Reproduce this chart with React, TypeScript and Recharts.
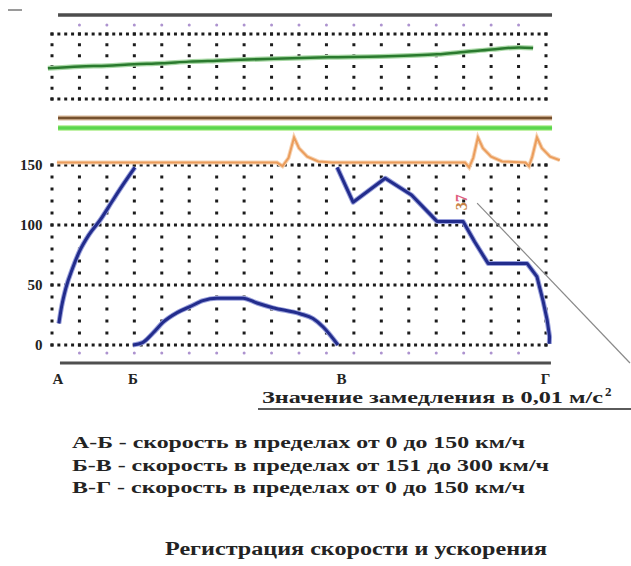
import React from "react";
import {
  ComposedChart,
  LineChart,
  Line,
  XAxis,
  YAxis,
  ReferenceLine,
  ReferenceDot,
  Customized,
} from "recharts";

// x values are grid columns (0..18), y values are km/h on the main panel
const gridColumns = [0, 1, 2, 3, 4, 5, 6, 7, 8, 9, 10, 11, 12, 13, 14, 15, 16, 17, 18];
const tickColumns = [1, 2, 3, 4, 5, 6, 7, 8, 9, 10, 11, 12, 13, 14, 15, 16, 17];
const speedTicks = [0, 50, 100, 150];
const markerPositions = [0.22, 2.95, 10.55, 17.98];
const markerLabels = ["А", "Б", "В", "Г"];
const topRows = [0, 6];

const speedAB = [
  { t: 0.25, v: 18 },
  { t: 0.35, v: 32 },
  { t: 0.5, v: 47 },
  { t: 0.75, v: 64 },
  { t: 1.0, v: 78 },
  { t: 1.35, v: 92 },
  { t: 1.75, v: 104 },
  { t: 2.2, v: 120 },
  { t: 2.6, v: 134 },
  { t: 3.02, v: 148 },
];

const speedBV = [
  { t: 2.95, v: 0 },
  { t: 3.3, v: 2 },
  { t: 3.68, v: 10 },
  { t: 4.05, v: 19 },
  { t: 4.56, v: 27 },
  { t: 5.03, v: 32 },
  { t: 5.5, v: 37 },
  { t: 6.01, v: 39 },
  { t: 6.96, v: 39 },
  { t: 7.47, v: 35 },
  { t: 8.05, v: 31 },
  { t: 9.04, v: 26 },
  { t: 9.51, v: 22 },
  { t: 9.88, v: 15 },
  { t: 10.42, v: 0 },
];

const speedVG = [
  { t: 10.39, v: 148 },
  { t: 10.97, v: 119 },
  { t: 12.14, v: 139 },
  { t: 13.1, v: 125 },
  { t: 14.03, v: 103 },
  { t: 14.98, v: 103 },
  { t: 15.4, v: 86 },
  { t: 15.89, v: 68 },
  { t: 17.31, v: 68 },
  { t: 17.67, v: 57 },
  { t: 17.89, v: 37 },
  { t: 18.04, v: 21 },
  { t: 18.13, v: 7 },
  { t: 18.12, v: 1 },
];

const acceleration = [
  { t: 0.18, a: 152 },
  { t: 8.2, a: 152 },
  { t: 8.4, a: 149 },
  { t: 8.62, a: 156 },
  { t: 8.82, a: 173 },
  { t: 9.0, a: 164 },
  { t: 9.3, a: 157 },
  { t: 9.7, a: 153 },
  { t: 10.2, a: 152 },
  { t: 15.05, a: 152 },
  { t: 15.2, a: 148 },
  { t: 15.35, a: 156 },
  { t: 15.52, a: 173 },
  { t: 15.7, a: 164 },
  { t: 16.0, a: 157 },
  { t: 16.4, a: 153 },
  { t: 17.25, a: 152 },
  { t: 17.38, a: 149 },
  { t: 17.5, a: 157 },
  { t: 17.67, a: 173 },
  { t: 17.85, a: 164 },
  { t: 18.15, a: 157 },
  { t: 18.5, a: 154 },
];

const topTrack = [
  { t: -0.15, g: 2.83 },
  { t: 1.02, g: 3.0 },
  { t: 2.0, g: 3.08 },
  { t: 2.99, g: 3.21 },
  { t: 4.01, g: 3.3 },
  { t: 4.99, g: 3.45 },
  { t: 6.01, g: 3.54 },
  { t: 8.09, g: 3.72 },
  { t: 10.06, g: 3.85 },
  { t: 11.95, g: 3.92 },
  { t: 14.03, g: 4.12 },
  { t: 15.01, g: 4.34 },
  { t: 16.03, g: 4.58 },
  { t: 17.02, g: 4.76 },
  { t: 17.53, g: 4.71 },
];

const decelCaption = "Значение замедления в 0,01 м/с";
const decelValue = "37";
const legendLines = [
  "А-Б - скорость в пределах от 0 до 150 км/ч",
  "Б-В - скорость в пределах от 151 до 300 км/ч",
  "В-Г - скорость в пределах от 0 до 150 км/ч",
];
const chartTitle = "Регистрация скорости и ускорения";

const SERIF = "Liberation Serif, Times New Roman, serif";
const INK = "#232323";
const DOT = "#1c1c1c";
const LILAC = "#ad93cf";
const BLUE = "#222c8c";

const W = 631;
const MARGIN_X = { left: 24.56, right: 57.56 };

function Annotations() {
  return (
    <g fontFamily={SERIF} fontWeight="bold" fill={INK}>
      <line x1={8} x2={22} y1={10} y2={10} stroke="#9a9a9a" strokeWidth={2} />
      <text x={262} y={403} fontSize={17} textLength={341} lengthAdjust="spacingAndGlyphs">
        {decelCaption}
      </text>
      <text x={605} y={396} fontSize={13}>
        2
      </text>
      <line x1={258} x2={631} y1={409} y2={409} stroke={INK} strokeWidth={1.5} />
      {legendLines.map((s, i) => (
        <text
          key={s}
          x={72}
          y={448 + i * 22.5}
          fontSize={17}
          textLength={i === 1 ? 477 : 453}
          lengthAdjust="spacingAndGlyphs"
        >
          {s}
        </text>
      ))}
      <text x={165} y={555} fontSize={18} textLength={382} lengthAdjust="spacingAndGlyphs">
        {chartTitle}
      </text>
    </g>
  );
}

const DecelLabel = (p: any) => (
  <text
    x={p.cx}
    y={p.cy}
    transform={`rotate(-90 ${p.cx} ${p.cy})`}
    textAnchor="middle"
    dominantBaseline="central"
    fontFamily={SERIF}
    fontWeight="bold"
    fontSize={16}
  >
    <tspan fill="#c98448">{decelValue[0]}</tspan>
    <tspan fill="#e0607e">{decelValue[1]}</tspan>
  </text>
);

function TopPanel() {
  return (
    <LineChart
      width={W}
      height={140}
      margin={{ top: 34, bottom: 41, ...MARGIN_X }}
      style={{ position: "absolute", left: 0, top: 0 }}
    >
      <XAxis type="number" dataKey="t" domain={[-1, 19]} hide />
      <YAxis type="number" domain={[0, 6]} hide />
      {gridColumns.map((c) => (
        <ReferenceLine
          key={"tc" + c}
          segment={[{ x: c, y: 6.1385 }, { x: c, y: -0.1385 }]}
          ifOverflow="visible"
          stroke={DOT}
          strokeWidth={3}
          strokeDasharray="3 7.83"
        />
      ))}
      {topRows.map((r) => (
        <ReferenceLine
          key={"tr" + r}
          segment={[{ x: -0.055, y: r }, { x: 18.055, y: r }]}
          ifOverflow="visible"
          stroke={DOT}
          strokeWidth={3}
          strokeDasharray="3 3.86"
        />
      ))}
      {tickColumns.map((c) => (
        <ReferenceDot key={"tp" + c} x={c} y={6.83} r={1.5} fill={LILAC} stroke="none" ifOverflow="visible" />
      ))}
      <ReferenceLine segment={[{ x: 0.22, y: 7.76 }, { x: 18.22, y: 7.76 }]} ifOverflow="visible" stroke="#4c4c4c" strokeWidth={3.5} />
      <ReferenceLine segment={[{ x: 0.22, y: -1.75 }, { x: 18.22, y: -1.75 }]} ifOverflow="visible" stroke="#d8b899" strokeWidth={5} />
      <ReferenceLine segment={[{ x: 0.22, y: -1.75 }, { x: 18.22, y: -1.75 }]} ifOverflow="visible" stroke="#75512f" strokeWidth={2.5} />
      <ReferenceLine segment={[{ x: 0.22, y: -2.68 }, { x: 18.22, y: -2.68 }]} ifOverflow="visible" stroke="#c2f2a8" strokeWidth={6} />
      <ReferenceLine segment={[{ x: 0.22, y: -2.68 }, { x: 18.22, y: -2.68 }]} ifOverflow="visible" stroke="#5cd64c" strokeWidth={3.5} />
      <Line data={topTrack} dataKey="g" type="monotone" stroke="#a9d8a6" strokeWidth={5} dot={false} isAnimationActive={false} />
      <Line data={topTrack} dataKey="g" type="monotone" stroke="#2a7a2e" strokeWidth={2.5} dot={false} isAnimationActive={false} />
    </LineChart>
  );
}

function SpeedPanel() {
  return (
    <ComposedChart
      width={W}
      height={566}
      margin={{ top: 129, bottom: 191, ...MARGIN_X }}
      style={{ position: "absolute", left: 0, top: 0 }}
    >
      <XAxis
        type="number"
        dataKey="t"
        domain={[-1, 19]}
        ticks={markerPositions}
        interval={0}
        tickFormatter={(v: number) => markerLabels[markerPositions.indexOf(v)]}
        height={30}
        axisLine={false}
        tickLine={false}
        tickSize={0}
        tickMargin={28}
        tick={{ fill: INK, fontSize: 15, fontWeight: "bold", fontFamily: SERIF }}
      />
      <YAxis type="number" domain={[0, 180]} hide />
      {gridColumns.map((c) => (
        <ReferenceLine
          key={"c" + c}
          segment={[{ x: c, y: 151.25 }, { x: c, y: -1.25 }]}
          ifOverflow="visible"
          stroke={DOT}
          strokeWidth={3}
          strokeDasharray="3 9"
        />
      ))}
      {speedTicks.map((s) => (
        <ReferenceLine
          key={"r" + s}
          segment={[{ x: -0.055, y: s }, { x: 18.055, y: s }]}
          ifOverflow="visible"
          stroke={DOT}
          strokeWidth={3}
          strokeDasharray="3 3.86"
          label={{
            value: String(s),
            position: "left",
            offset: 8,
            fill: INK,
            fontSize: 15,
            fontWeight: "bold",
            fontFamily: SERIF,
          }}
        />
      ))}
      {tickColumns.map((c) => (
        <ReferenceDot key={"bp" + c} x={c} y={-6.67} r={1.5} fill={LILAC} stroke="none" ifOverflow="visible" />
      ))}
      <ReferenceLine segment={[{ x: 0.29, y: -15 }, { x: 18.18, y: -15 }]} ifOverflow="visible" stroke="#4f4f4f" strokeWidth={3} />
      <ReferenceLine segment={[{ x: 15.49, y: 118.3 }, { x: 21.06, y: -15 }]} ifOverflow="visible" stroke="#8a8a8a" strokeWidth={1.2} />
      <ReferenceDot x={14.9} y={119} r={0} shape={DecelLabel} ifOverflow="visible" />
      <Line data={acceleration} dataKey="a" type="linear" stroke="#f6d3b3" strokeWidth={4} dot={false} isAnimationActive={false} />
      <Line data={acceleration} dataKey="a" type="linear" stroke="#eb9d5c" strokeWidth={2} dot={false} isAnimationActive={false} />
      <Line data={speedAB} dataKey="v" type="monotone" stroke="#9aa1dc" strokeWidth={5} dot={false} isAnimationActive={false} />
      <Line data={speedBV} dataKey="v" type="monotone" stroke="#9aa1dc" strokeWidth={5} dot={false} isAnimationActive={false} />
      <Line data={speedVG} dataKey="v" type="linear" stroke="#9aa1dc" strokeWidth={5} strokeLinejoin="round" dot={false} isAnimationActive={false} />
      <Line data={speedAB} dataKey="v" type="monotone" stroke={BLUE} strokeWidth={3} dot={false} isAnimationActive={false} />
      <Line data={speedBV} dataKey="v" type="monotone" stroke={BLUE} strokeWidth={3} dot={false} isAnimationActive={false} />
      <Line data={speedVG} dataKey="v" type="linear" stroke={BLUE} strokeWidth={3} strokeLinejoin="round" dot={false} isAnimationActive={false} />
      <Customized component={<Annotations />} />
    </ComposedChart>
  );
}

export default function App() {
  return (
    <div style={{ position: "absolute", left: 0, top: 0, width: W, height: 566, background: "#fff" }}>
      <TopPanel />
      <SpeedPanel />
    </div>
  );
}
